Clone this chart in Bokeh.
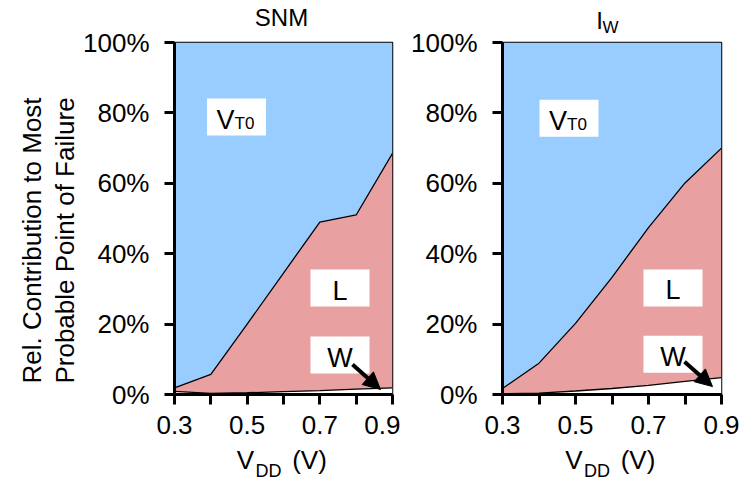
from bokeh.embed import file_html
from bokeh.layouts import row
from bokeh.models import Arrow, FixedTicker, Label, LinearAxis, NormalHead, Range1d
from bokeh.plotting import figure
from bokeh.resources import INLINE

# ---- data -------------------------------------------------------------
vdd = [0.3, 0.4, 0.5, 0.6, 0.7, 0.8, 0.9]
x_ticks = [0.3, 0.4, 0.5, 0.6, 0.7, 0.8, 0.9]
x_tick_labels = ["0.3", "", "0.5", "", "0.7", "", "0.9"]
y_ticks = [0.0, 0.2, 0.4, 0.6, 0.8, 1.0]
y_tick_labels = ["0%", "20%", "40%", "60%", "80%", "100%"]

# cumulative boundaries: W share, and W + L share (the rest is V_T0)
snm_w = [0.009, 0.003, 0.005, 0.008, 0.011, 0.015, 0.019]
snm_wl = [0.019, 0.057, 0.200, 0.345, 0.490, 0.510, 0.685]
iw_w = [0.002, 0.004, 0.010, 0.017, 0.026, 0.037, 0.048]
iw_wl = [0.017, 0.089, 0.202, 0.333, 0.474, 0.601, 0.700]

# ---- style ------------------------------------------------------------
FONT = "Liberation Sans"
BLUE = "#99ccff"
PINK = "#e9a0a0"
BIG = 26
SUB = 17
SHIFT = 7  # baseline correction for Label text, px


def text_axis(p, side, ticks, labels, size, standoff, vertical=False):
    """An axis without line or ticks, used only to place text in a border."""
    ax = LinearAxis(
        ticker=FixedTicker(ticks=ticks),
        major_label_overrides=dict(zip(ticks, labels)),
        axis_line_color=None, major_tick_line_color=None,
        minor_tick_line_color=None, major_tick_out=0, major_tick_in=0,
        major_label_text_font=FONT, major_label_text_font_size=f"{size}px",
        major_label_text_color="black", major_label_standoff=standoff,
    )
    if vertical:
        ax.major_label_orientation = "vertical"
    p.add_layout(ax, side)
    return ax


def make_panel(w, wl, width, frame, border_left, boxes, arrow):
    """frame = (left, right, top, bottom) in page pixels; border_left = page x of the figure."""
    fx0, fx1, fy0, fy1 = frame
    p = figure(
        width=width, height=491,
        x_range=Range1d(0.3, 0.9), y_range=Range1d(0.0, 1.0),
        min_border_left=fx0 - border_left,
        min_border_right=border_left + width - fx1,
        min_border_top=fy0, min_border_bottom=491 - fy1,
        output_backend="svg", toolbar_location=None,
        background_fill_color="white", border_fill_color="white",
    )
    p.grid.visible = False
    p.outline_line_color = "black"
    p.outline_line_width = 1.5

    def X(px):
        return 0.3 + (px - fx0) / (fx1 - fx0) * 0.6

    def Y(py):
        return (fy1 - py) / (fy1 - fy0)

    # stacked areas
    p.varea(x=vdd, y1=wl, y2=1.0, fill_color=BLUE)
    p.varea(x=vdd, y1=w, y2=wl, fill_color=PINK)
    p.varea(x=vdd, y1=0.0, y2=w, fill_color="white")
    p.line(vdd, wl, line_color="black", line_width=1.3)
    p.line(vdd, w, line_color="black", line_width=1.3)

    # axes
    p.xaxis.ticker = FixedTicker(ticks=x_ticks)
    p.xaxis.major_label_overrides = dict(zip(x_ticks, x_tick_labels))
    p.yaxis.ticker = FixedTicker(ticks=y_ticks)
    p.yaxis.major_label_overrides = dict(zip(y_ticks, y_tick_labels))
    for ax in (p.xaxis, p.yaxis):
        ax.axis_line_width = 3
        ax.axis_line_color = "black"
        ax.major_tick_line_width = 3
        ax.major_tick_line_color = "black"
        ax.major_tick_out = 10
        ax.major_tick_in = 0
        ax.minor_tick_line_color = None
        ax.major_label_text_font = FONT
        ax.major_label_text_font_size = f"{BIG}px"
        ax.major_label_text_color = "black"
    p.xaxis.major_label_standoff = 11
    p.yaxis.major_label_standoff = 15

    # x-axis title V_DD (V), set as text on two bare axes below the tick labels
    cx = (fx0 + fx1) / 2
    text_axis(p, "below", [X(cx - 38), X(cx + 26)], ["V", "(V)"], BIG, 8)
    text_axis(p, "below", [X(cx - 15)], ["DD"], 18, -17)

    def lab(px, py, text, size, align="left"):
        p.add_layout(Label(
            x=X(px), y=Y(py - SHIFT), text=text,
            text_font=FONT, text_font_size=f"{size}px", text_color="black",
            text_align=align, text_baseline="alphabetic",
        ))

    # region labels on white boxes
    bx = [X(b[0]) for b in boxes]
    by = [Y(b[1]) for b in boxes]
    p.rect(x=bx, y=by, width=59, height=37, width_units="screen",
           height_units="screen", fill_color="white", line_color=None)
    (vx, vy), (lx, ly), (wx, wy) = [(b[0], b[1]) for b in boxes]
    lab(vx - 20, vy + 9.5, "V", 27)
    lab(vx - 2, vy + 13, "T0", SUB)
    lab(lx, ly + 9.5, "L", 27, align="center")
    lab(wx, wy + 9.5, "W", 27, align="center")

    (ax0, ay0), (ax1, ay1) = arrow
    p.add_layout(Arrow(
        x_start=X(ax0), y_start=Y(ay0), x_end=X(ax1), y_end=Y(ay1),
        line_color="black", line_width=4,
        end=NormalHead(size=17, fill_color="black", line_color="black"),
    ))
    return p, X, Y


left, XL, YL = make_panel(
    snm_w, snm_wl, 400, (174, 392, 42, 394), 0,
    [(236, 116.5), (339.5, 287.5), (339.5, 354.5)],
    ((352, 364), (380, 389)),
)
text_axis(left, "above", [XL(281)], ["SNM"], 24, 12)
text_axis(left, "left", [YL(240)], ["Probable Point of Failure"], BIG, 1, vertical=True)
text_axis(left, "left", [YL(240)], ["Rel. Contribution to Most"], BIG, 0, vertical=True)

right, XR, YR = make_panel(
    iw_w, iw_wl, 343, (502, 721, 40, 395), 400,
    [(568.5, 116.5), (672.5, 287.5), (672.5, 354.5)],
    ((684, 362), (712, 387)),
)
text_axis(right, "above", [XR(610)], ["W"], SUB, 6)
text_axis(right, "above", [XR(599)], ["I"], 24, -19)

layout = row(left, right)
open("out.html", "w").write(file_html(layout, INLINE))
